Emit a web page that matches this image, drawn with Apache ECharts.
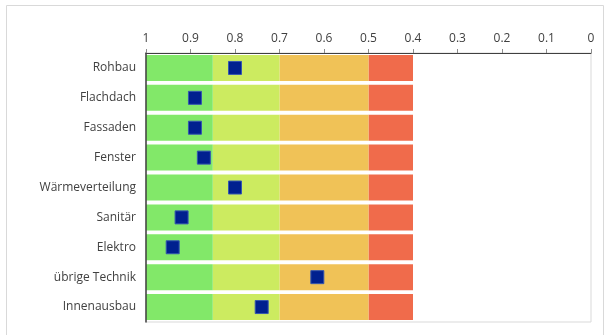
<!DOCTYPE html>
<html>
<head>
<meta charset="utf-8">
<script src="https://cdn.jsdelivr.net/npm/echarts@6/dist/echarts.min.js"></script>
<style>
  html, body { margin: 0; padding: 0; background: #fff; }
  #chart { width: 609px; height: 335px; }
</style>
</head>
<body>
<div id="chart"></div>
<script>
// Kategorien und Bewertungen
const categories = ['Rohbau', 'Flachdach', 'Fassaden', 'Fenster', 'Wärmeverteilung', 'Sanitär', 'Elektro', 'übrige Technik', 'Innenausbau'];
const scores = [0.80, 0.89, 0.89, 0.87, 0.80, 0.92, 0.94, 0.615, 0.74];
// Grenzen der Farbbänder (von rechts nach links)
const bandBase = 0.4;
const bandRed = 0.1;      // 0.4 - 0.5
const bandOrange = 0.2;   // 0.5 - 0.7
const bandLight = 0.15;   // 0.7 - 0.85
const bandGreen = 0.15;   // 0.85 - 1
const tickValues = [1, 0.9, 0.8, 0.7, 0.6, 0.5, 0.4, 0.3, 0.2, 0.1, 0];

const fill = (v) => categories.map(() => v);
const font = '"Open Sans", "Noto Sans", sans-serif';

const chart = echarts.init(document.getElementById('chart'));

const band = (name, value, color) => ({
  name: name,
  type: 'bar',
  stack: 'band',
  barCategoryGap: '13%',
  silent: true,
  itemStyle: { color: color },
  data: fill(value),
});

chart.setOption({
  animation: false,
  graphic: [
    {
      type: 'rect',
      shape: { x: 6.5, y: 5.5, width: 597, height: 340 },
      style: { fill: 'none', stroke: '#d9d9d9', lineWidth: 1 },
      silent: true,
    },
  ],
  grid: {
    left: 146,
    right: 18,
    top: 53,
    bottom: 13,
    show: true,
    borderColor: '#d9d9d9',
    borderWidth: 1,
  },
  xAxis: {
    type: 'value',
    position: 'top',
    inverse: true,
    min: 0,
    max: 1,
    interval: 0.1,
    z: 5,
    axisLine: { show: true, onZero: false, lineStyle: { color: '#404040', width: 1 } },
    axisTick: { show: true, length: 4, lineStyle: { color: '#8c8c8c' } },
    splitLine: { show: false },
    axisLabel: {
      color: '#404040',
      fontSize: 12,
      fontFamily: font,
      margin: 8,
      formatter: (v) => {
        const r = Math.round(v * 10) / 10;
        return tickValues.includes(r) ? String(r) : '';
      },
    },
  },
  yAxis: {
    type: 'category',
    inverse: true,
    data: categories,
    z: 5,
    axisLine: { show: true, onZero: false, lineStyle: { color: '#404040', width: 1.5 } },
    axisTick: { show: false },
    axisLabel: {
      color: '#404040',
      fontSize: 12,
      fontFamily: font,
      margin: 10,
    },
  },
  series: [
    band('base', bandBase, 'rgba(0,0,0,0)'),
    band('rot', bandRed, '#F06B4B'),
    band('orange', bandOrange, '#F0C257'),
    band('hellgrün', bandLight, '#CCEB60'),
    band('grün', bandGreen, '#82E869'),
    {
      name: 'Bewertung',
      type: 'scatter',
      symbol: 'rect',
      symbolSize: 13,
      z: 6,
      itemStyle: {
        color: '#00208F',
        borderColor: '#3556B0',
        borderWidth: 1,
        opacity: 1,
      },
      data: scores,
    },
  ],
});
</script>
</body>
</html>
